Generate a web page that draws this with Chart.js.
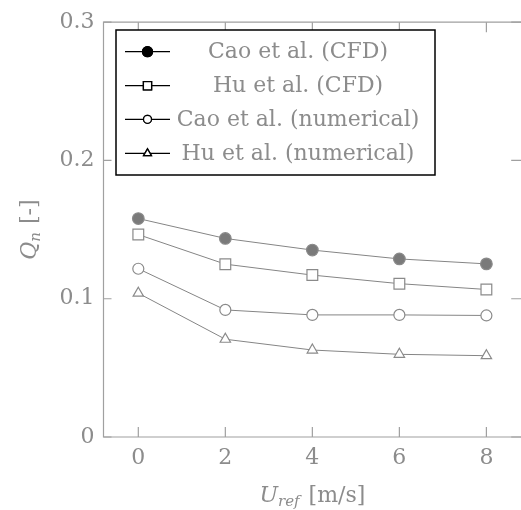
<!DOCTYPE html>
<html>
<head>
<meta charset="utf-8">
<script src="https://cdn.jsdelivr.net/npm/chart.js@4"></script>
<style>
html,body{margin:0;padding:0;background:#fff;overflow:hidden;}
#wrap{width:530px;height:510px;}
</style>
</head>
<body>
<div id="wrap"><canvas id="c" width="530" height="510"></canvas></div>
<script>
const uRef = [0, 2, 4, 6, 8];
const caoCFD = [0.158, 0.1436, 0.1352, 0.1288, 0.1252];
const huCFD = [0.1464, 0.125, 0.1171, 0.1109, 0.1067];
const caoNum = [0.1217, 0.0919, 0.0883, 0.0883, 0.0879];
const huNum = [0.104, 0.0707, 0.0629, 0.0598, 0.0588];
const xTicks = [0, 2, 4, 6, 8];
const yTicks = [0, 0.1, 0.2, 0.3];
const yTickLabels = ['0', '0.1', '0.2', '0.3'];
const seriesNames = ['Cao et al. (CFD)', 'Hu et al. (CFD)', 'Cao et al. (numerical)', 'Hu et al. (numerical)'];

const FONT = '"DejaVu Serif", serif';
const TEXT = '#8c8c8c';
const AXIS = '#a0a0a0';
const LINE = '#858585';

function pts(ys){ return uRef.map((x,i)=>({x:x, y:ys[i]})); }

const styles = [
  {pointStyle:'circle', radius:5.8, fill:'#7a7a7a', legR:5, legFill:true},
  {pointStyle:'rect', radius:7.6, fill:'#fff', legR:5.8, legFill:false},
  {pointStyle:'circle', radius:5.5, fill:'#fff', legR:4, legFill:false},
  {pointStyle:'triangle', radius:6, fill:'#fff', legR:4.5, legFill:false}
];
const allData = [caoCFD, huCFD, caoNum, huNum];

const datasets = allData.map((d,i)=>({
  label: seriesNames[i],
  data: pts(d),
  borderColor: LINE,
  borderWidth: 1,
  pointStyle: styles[i].pointStyle,
  pointRadius: styles[i].radius,
  pointBackgroundColor: styles[i].fill,
  pointBorderColor: '#8a8a8a',
  pointBorderWidth: 1.2,
  fill: false,
  tension: 0,
  clip: false
}));

const decor = {
  id: 'decor',
  afterDraw(chart){
    const ctx = chart.ctx;
    const a = chart.chartArea;
    const xs = chart.scales.x, ys = chart.scales.y;
    ctx.save();
    // frame (right side lies beyond the visible page, as in the reference)
    ctx.strokeStyle = AXIS;
    ctx.lineWidth = 1.2;
    ctx.beginPath();
    ctx.moveTo(a.right + 10, a.bottom); ctx.lineTo(a.left, a.bottom); ctx.lineTo(a.left, a.top); ctx.lineTo(a.right + 10, a.top);
    ctx.stroke();
    // inward ticks
    const T = 10;
    ctx.beginPath();
    xTicks.forEach(v=>{
      const px = xs.getPixelForValue(v);
      ctx.moveTo(px, a.bottom); ctx.lineTo(px, a.bottom - T);
      ctx.moveTo(px, a.top); ctx.lineTo(px, a.top + T);
    });
    yTicks.forEach(v=>{
      const py = ys.getPixelForValue(v);
      ctx.moveTo(a.left, py); ctx.lineTo(a.left + 8, py);
      ctx.moveTo(a.right, py); ctx.lineTo(a.right - T, py);
    });
    ctx.stroke();

    // axis titles
    ctx.fillStyle = TEXT;
    ctx.textBaseline = 'alphabetic';
    // x title: U_ref [m/s]
    {
      const cx = (a.left + a.right) / 2;
      const base = 502;
      const fMain = 'italic 22px ' + FONT, fSub = 'italic 15px ' + FONT, fUp = '22px ' + FONT;
      const gap = 9;
      ctx.font = fMain; const wU = ctx.measureText('U').width;
      ctx.font = fSub; const wS = ctx.measureText('ref').width;
      ctx.font = fUp; const wR = ctx.measureText('[m/s]').width;
      let x = cx - (wU + wS + gap + wR) / 2;
      ctx.textAlign = 'left';
      ctx.font = fMain; ctx.fillText('U', x, base); x += wU;
      ctx.font = fSub; ctx.fillText('ref', x, base + 4); x += wS + gap;
      ctx.font = fUp; ctx.fillText('[m/s]', x, base);
    }
    // y title: Q_n [-]
    {
      ctx.save();
      ctx.translate(36, (a.top + a.bottom) / 2);
      ctx.rotate(-Math.PI / 2);
      const fMain = 'italic 22px ' + FONT, fSub = 'italic 15px ' + FONT, fUp = '22px ' + FONT;
      const gap = 8;
      ctx.font = fMain; const wQ = ctx.measureText('Q').width;
      ctx.font = fSub; const wS = ctx.measureText('n').width;
      ctx.font = fUp; const wR = ctx.measureText('[-]').width;
      let x = -(wQ + wS + gap + wR) / 2;
      ctx.textAlign = 'left';
      ctx.font = fMain; ctx.fillText('Q', x, 0); x += wQ;
      ctx.font = fSub; ctx.fillText('n', x, 4); x += wS + gap;
      ctx.font = fUp; ctx.fillText('[-]', x, 0);
      ctx.restore();
    }

    // legend
    const bx = 116, by = 30, bw = 319, bh = 145;
    ctx.fillStyle = '#fff';
    ctx.fillRect(bx, by, bw, bh);
    ctx.strokeStyle = '#000';
    ctx.lineWidth = 1.5;
    ctx.strokeRect(bx, by, bw, bh);
    const rows = [51.7, 85.7, 119.3, 153.3];
    seriesNames.forEach((name, i)=>{
      const y = rows[i];
      ctx.strokeStyle = '#000';
      ctx.lineWidth = 1.3;
      ctx.beginPath(); ctx.moveTo(125, y); ctx.lineTo(170, y); ctx.stroke();
      const st = styles[i];
      Chart.helpers.drawPoint(ctx, {pointStyle: st.pointStyle, radius: st.legR, rotation: 0, borderWidth: 1.2}, 147.5, y);
      ctx.fillStyle = st.legFill ? '#000' : '#fff';
      ctx.fill();
      ctx.stroke();
      ctx.fillStyle = TEXT;
      ctx.font = '22px ' + FONT;
      ctx.textAlign = 'center';
      ctx.textBaseline = 'middle';
      ctx.fillText(name, 298, y + 1);
    });
    ctx.restore();
  }
};

new Chart(document.getElementById('c'), {
  type: 'line',
  data: { datasets },
  options: {
    responsive: false,
    animation: false,
    events: [],
    layout: { padding: { left: 0, right: 5, top: 17, bottom: 0 } },
    plugins: { legend: { display: false }, tooltip: { enabled: false } },
    scales: {
      x: {
        type: 'linear', min: -0.8, max: 8.8,
        afterBuildTicks: s => { s.ticks = xTicks.map(v=>({value:v})); },
        afterFit: s => { s.height = 73; },
        grid: { display: false, drawTicks: false },
        border: { display: false },
        ticks: { color: TEXT, font: { family: FONT, size: 22 }, padding: 8, maxRotation: 0, callback: v => String(v) }
      },
      y: {
        type: 'linear', min: 0, max: 0.3,
        afterBuildTicks: s => { s.ticks = yTicks.map(v=>({value:v})); },
        afterFit: s => { s.width = 103.5; },
        grid: { display: false, drawTicks: false },
        border: { display: false },
        ticks: { color: TEXT, font: { family: FONT, size: 22 }, padding: 9, callback: (v, i) => yTickLabels[i] }
      }
    }
  },
  plugins: [decor]
});
</script>
</body>
</html>
